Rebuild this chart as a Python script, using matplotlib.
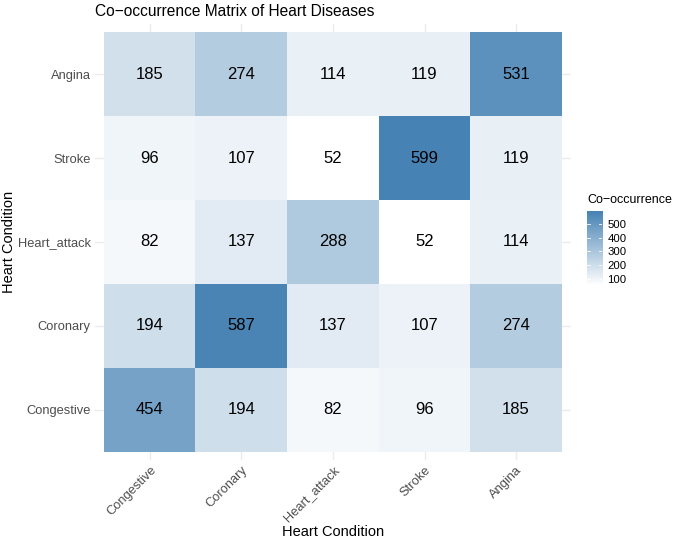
import numpy as np
import matplotlib
matplotlib.use("Agg")
import matplotlib.pyplot as plt
from matplotlib.colors import LinearSegmentedColormap, Normalize

plt.rcParams['font.family'] = ['Liberation Sans', 'DejaVu Sans']

# categories (same for both axes)
conditions = ['Congestive', 'Coronary', 'Heart_attack', 'Stroke', 'Angina']

# co-occurrence counts, row = y category (bottom to top), col = x category
row_congestive = [454, 194, 82, 96, 185]
row_coronary = [194, 587, 137, 107, 274]
row_heart_attack = [82, 137, 288, 52, 114]
row_stroke = [96, 107, 52, 599, 119]
row_angina = [185, 274, 114, 119, 531]

legend_ticks = [100, 200, 300, 400, 500]

matrix = np.array([row_congestive, row_coronary, row_heart_attack, row_stroke, row_angina])

cmap = LinearSegmentedColormap.from_list('wb', ['#FFFFFF', '#4682B4'])
norm = Normalize(vmin=matrix.min(), vmax=matrix.max())

W, H = 674, 539
fig = plt.figure(figsize=(W / 100, H / 100), dpi=100)
ax = fig.add_axes([95 / W, 1 - 460 / H, 476 / W, 436 / H])

n = len(conditions)
ax.imshow(matrix, cmap=cmap, norm=norm, origin='lower', aspect='auto', zorder=2)
ax.set_xlim(-0.6, n - 0.4)
ax.set_ylim(-0.6, n - 0.4)

for i in range(n):
    for j in range(n):
        ax.text(j, i, str(matrix[i, j]), ha='center', va='center',
                fontsize=12, color='black', zorder=3)

ax.set_xticks(range(n))
ax.set_yticks(range(n))
ax.set_xticklabels(conditions, rotation=45, ha='right', va='top',
                   rotation_mode='anchor', fontsize=9.3, color='#4D4D4D')
ax.set_yticklabels(conditions, fontsize=9.3, color='#4D4D4D')
ax.tick_params(length=0, pad=3)
ax.grid(True, color='#EBEBEB', linewidth=1, zorder=0)
ax.set_axisbelow(True)
for s in ax.spines.values():
    s.set_visible(False)

# axis titles and plot title
fig.text(333 / W, 1 - 532 / H, 'Heart Condition', fontsize=10.5, ha='center', va='center')
fig.text(9 / W, 1 - 242 / H, 'Heart Condition', fontsize=10.5, ha='center', va='center',
         rotation=90)
fig.text(95 / W, 1 - 11 / H, 'Co\u2212occurrence Matrix of Heart Diseases',
         fontsize=11.2, ha='left', va='center')

# colour bar legend
cax = fig.add_axes([587 / W, 1 - 285 / H, 15 / W, 74 / H])
grad = np.linspace(matrix.min(), matrix.max(), 256).reshape(-1, 1)
cax.imshow(grad, cmap=cmap, norm=norm, origin='lower', aspect='auto',
           extent=[0, 1, matrix.min(), matrix.max()])
cax.set_xticks([])
cax.set_yticks(legend_ticks)
cax.yaxis.tick_right()
cax.tick_params(axis='y', length=0, labelsize=8.2, pad=4)
for t in legend_ticks:
    cax.plot([0, 0.2], [t, t], color='white', lw=0.6)
    cax.plot([0.8, 1], [t, t], color='white', lw=0.6)
cax.set_xlim(0, 1)
cax.set_ylim(matrix.min(), matrix.max())
for s in cax.spines.values():
    s.set_visible(False)
fig.text(587 / W, 1 - 200 / H, 'Co\u2212occurrence', fontsize=9, va='center', ha='left')

fig.savefig('out.png', dpi=100)
